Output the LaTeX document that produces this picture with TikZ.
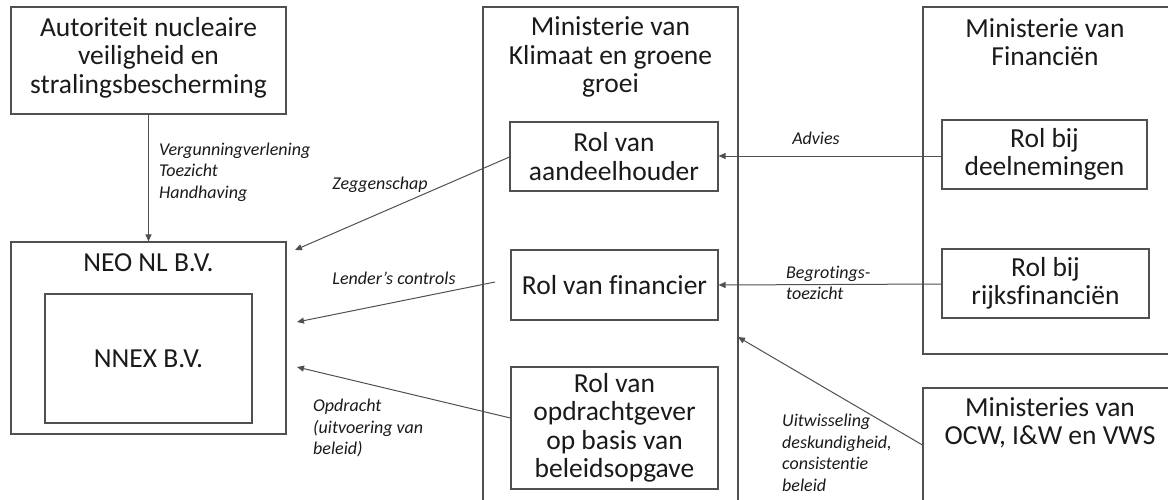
\documentclass[tikz,border=0pt]{standalone}
\usepackage{fontspec}
\setmainfont{Carlito}[Ligatures=NoCommon]
\usetikzlibrary{arrows.meta}
\definecolor{linec}{HTML}{505050}
\definecolor{textc}{HTML}{1A1A1A}
\tikzset{
  box/.style={draw=linec, line width=1.1pt, inner sep=0pt, align=center, text=textc,
              font=\fontsize{27.5}{28.5}\selectfont},
  ttl/.style={inner sep=0pt, align=center, text=textc, font=\fontsize{27.5}{28.5}\selectfont},
  lbl/.style={inner sep=0pt, align=left, text=textc, font=\fontsize{18}{21.5}\selectfont\itshape},
  arr/.style={draw=linec, line width=1pt, -{Triangle[length=7pt,width=6pt]}},
}
\begin{document}
\begin{tikzpicture}[x=1pt,y=-1pt]
\useasboundingbox (0,0) rectangle (1168,499);
\clip (0,0) rectangle (1168,499);
% left column
\node[box, minimum width=275, minimum height=107] (aut) at (148.5,60.5) {};
\node[ttl] (autt) at (148.5,57.5) {Autoriteit nucleaire\\veiligheid en\\stralingsbescherming};
\node[box, minimum width=275, minimum height=192] (neo) at (148.5,338) {};
\node[ttl] (neot) at (148.5,263) {NEO NL B.V.};
\node[box, minimum width=207, minimum height=129] (nnex) at (148.5,358.5) {NNEX B.V.};
% middle column
\node[box, minimum width=255, minimum height=513] (kgg) at (610.5,263.5) {};
\node[ttl] (kggt) at (610.5,57) {Ministerie van\\Klimaat en groene\\groei};
\node[box, minimum width=208, minimum height=69] (aand) at (614,156.5) {Rol van\\aandeelhouder};
\node[box, minimum width=207, minimum height=70] (fin) at (614.5,285) {Rol van financier};
\node[box, minimum width=207, minimum height=122] (opd) at (614.5,428)
  {Rol van\\opdrachtgever\\op basis van\\beleidsopgave};
% right column
\node[box, minimum width=246, minimum height=347] (mf) at (1046,180.5) {};
\node[ttl] (mft) at (1045,42) {Ministerie van\\Financiën};
\node[box, minimum width=205, minimum height=69] (deel) at (1044.5,154.5) {Rol bij\\deelnemingen};
\node[box, minimum width=207, minimum height=69] (rijk) at (1045.5,283.5) {Rol bij\\rijksfinanciën};
\node[box, minimum width=260, minimum height=150] (ocw) at (1053,463) {};
\node[ttl] (ocwt) at (1050,423) {Ministeries van\\OCW, I\&W en VWS};
% free ends
\coordinate (zeg) at (295,250);
\coordinate (lend1) at (495,282);
\coordinate (lend2) at (297,322);
\coordinate (opdt) at (297,367);
\coordinate (uitw) at (738,337);
% connectors
\draw[arr] (aut) -- (neo);
\draw[arr] (aand.west |- 0,157) -- (zeg);
\draw[arr] (lend1) -- (lend2);
\draw[arr] (opd.west |- 0,418) -- (opdt);
\draw[arr] (deel.west |- 0,156) -- (aand.east |- 0,156);
\draw[arr] (rijk.west |- 0,284) -- (fin.east |- 0,285);
\draw[arr] (ocw.west |- 0,445) -- (uitw);
% labels
\node[lbl, anchor=west] (l1) at (159,172) {Vergunningverlening\\Toezicht\\Handhaving};
\node[lbl] (l2) at (380,185) {Zeggenschap};
\node[lbl] (l3) at (394,278) {Lender’s controls};
\node[lbl, anchor=west] (l4) at (313,428) {Opdracht\\(uitvoering van\\beleid)};
\node[lbl] (l5) at (816,138) {Advies};
\node[lbl, anchor=west] (l6) at (786,283) {Begrotings-\\toezicht};
\node[lbl, anchor=west] (l7) at (782,453) {Uitwisseling\\deskundigheid,\\consistentie\\beleid};
\end{tikzpicture}
\end{document}
